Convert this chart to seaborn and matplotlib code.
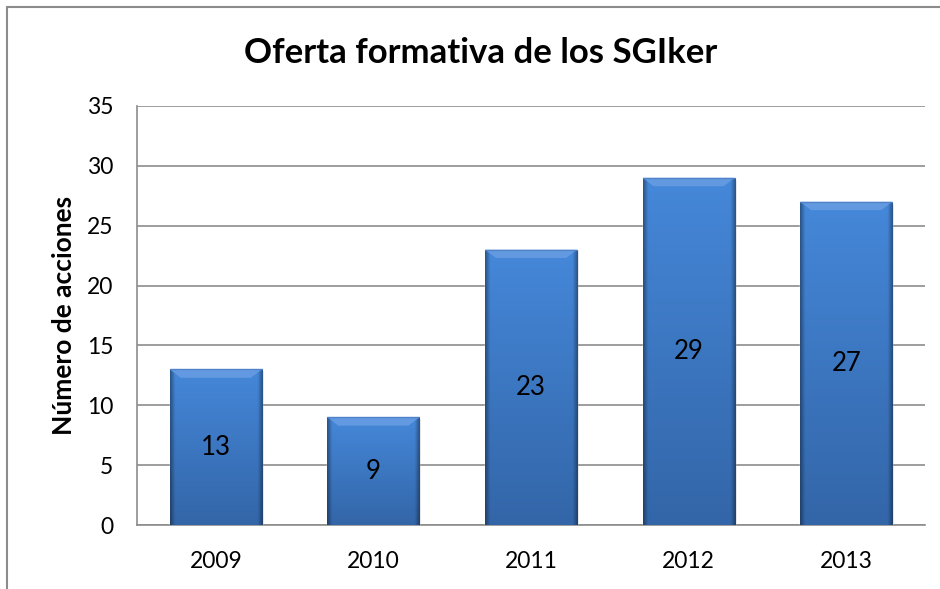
import numpy as np
import pandas as pd
import seaborn as sns
import matplotlib.pyplot as plt
from matplotlib.patches import Rectangle, Polygon

# ---------- datos ----------
anios = ['2009', '2010', '2011', '2012', '2013']
acciones = [13, 9, 23, 29, 27]
titulo = 'Oferta formativa de los SGIker'
etiqueta_y = 'Número de acciones'

df = pd.DataFrame({'anio': anios, 'acciones': acciones})

sns.set_style('white')
plt.rcParams['font.family'] = ['Lato', 'DejaVu Sans']
plt.rcParams['text.color'] = 'black'
plt.rcParams['axes.labelcolor'] = 'black'

fig = plt.figure(figsize=(9.4, 5.89), dpi=100)
ax = fig.add_axes([137 / 940, 1 - 525 / 589, (925 - 137) / 940, (525 - 106) / 589])

sns.barplot(data=df, x='anio', y='acciones', color='#3a70be', width=0.585,
            saturation=1, ax=ax, zorder=3)

# gradiente tipo Excel en cada barra
n = 64
v = np.linspace(0, 1, n)
h = np.linspace(-1, 1, n)
V, H = np.meshgrid(v, h, indexing='ij')
top = np.array([0.27, 0.53, 0.85])
bot = np.array([0.20, 0.40, 0.66])
img = top[None, None, :] * (1 - V[..., None]) + bot[None, None, :] * V[..., None]
edge = np.clip((np.abs(H) - 0.9) / 0.1, 0, 1)
img = img * (1 - 0.35 * edge[..., None])
for p in ax.patches:
    x0, y0 = p.get_x(), p.get_y()
    w, hh = p.get_width(), p.get_height()
    # sombra
    ax.add_patch(Rectangle((x0 + 0.012, y0), w, hh - 0.15, color='#000000',
                           alpha=0.12, zorder=2, lw=0))
    im = ax.imshow(img, extent=[x0, x0 + w, y0 + hh, y0], aspect='auto',
                   origin='lower', zorder=4, interpolation='bilinear')
    im.set_clip_path(p)
    # bisel superior
    d = 0.7
    dx = 0.07
    ax.add_patch(Polygon([(x0, y0 + hh), (x0 + w, y0 + hh),
                          (x0 + w - dx, y0 + hh - d), (x0 + dx, y0 + hh - d)],
                         closed=True, color='#6a9fe3', alpha=0.8, zorder=5, lw=0))
    ax.plot([x0, x0 + w], [y0 + hh, y0 + hh], color='#4f82c8', lw=1, zorder=6)
    ax.text(x0 + w / 2, y0 + hh / 2, f'{int(hh)}', ha='center', va='center',
            fontsize=18.5, color='black', zorder=7)

ax.set_ylim(0, 35)
ax.set_xlim(-0.5, 4.5)
ax.set_yticks(range(0, 36, 5))
ax.yaxis.grid(True, color='#8c8c8c', lw=1.2, zorder=0)
ax.set_axisbelow(True)
for s in ['top', 'right']:
    ax.spines[s].set_visible(False)
for s in ['left', 'bottom']:
    ax.spines[s].set_color('#8c8c8c')
    ax.spines[s].set_linewidth(1.2)
ax.tick_params(axis='both', labelsize=16.5, length=0, colors='black')
ax.tick_params(axis='y', pad=17)
ax.tick_params(axis='x', pad=19)
ax.set_xlabel('')
ax.set_ylabel(etiqueta_y, fontsize=19, fontweight='bold', labelpad=8)

fig.text(481 / 940, 1 - 53 / 589, titulo, ha='center', va='center',
         fontsize=25, fontweight='bold', color='black')

# marco del gráfico
fig.patches.append(Rectangle((7 / 940, -0.05), 1.1, 1 - 7 / 589 + 0.05,
                             transform=fig.transFigure, fill=False,
                             edgecolor='#8c8c8c', lw=1.5))

fig.savefig('out.png', dpi=100)
